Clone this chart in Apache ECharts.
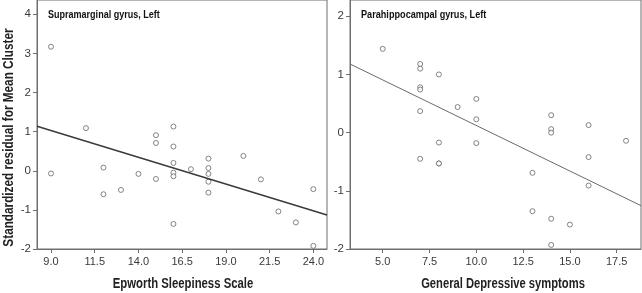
<!DOCTYPE html>
<html><head><meta charset="utf-8">
<script src="https://cdn.jsdelivr.net/npm/echarts@6/dist/echarts.min.js"></script>
<style>html,body{margin:0;padding:0;background:#fff}#c{width:642px;height:293px}</style>
</head><body><div id="c"></div>
<script>
// ---- data ----
const leftTitle = 'Supramarginal gyrus, Left';
const rightTitle = 'Parahippocampal gyrus, Left';
const yTitle = 'Standardized residual for Mean Cluster';
const leftXTitle = 'Epworth Sleepiness Scale';
const rightXTitle = 'General Depressive symptoms';

const leftScale = [9, 9, 11, 12, 12, 13, 14, 15, 15, 15, 16, 16, 16, 16, 16, 16, 17, 18, 18, 18, 18, 18, 20, 21, 22, 23, 24, 24];
const leftResid = [3.17, -0.07, 1.09, 0.08, -0.60, -0.49, -0.08, 0.91, 0.71, -0.21, 1.13, 0.62, 0.20, -0.05, -0.14, -1.36, 0.04, 0.31, 0.07, -0.08, -0.28, -0.56, 0.38, -0.22, -1.04, -1.32, -0.47, -1.92];
const leftFitX = [8.2, 24.78];
const leftFitY = [1.14, -1.13];

const rightScale = [5, 7, 7, 7, 7, 7, 7, 8, 8, 8, 8, 9, 10, 10, 10, 13, 13, 14, 14, 14, 14, 14, 15, 16, 16, 16, 18];
const rightResid = [1.44, 1.18, 1.10, 0.78, 0.74, 0.37, -0.45, 1.00, -0.17, -0.53, -0.53, 0.44, 0.58, 0.23, -0.18, -0.69, -1.35, 0.30, 0.06, 0.00, -1.48, -1.93, -1.58, 0.13, -0.42, -0.91, -0.14];
const rightFitX = [3.25, 18.8];
const rightFitY = [1.18, -1.255];

const leftXTicks = [9.0, 11.5, 14.0, 16.5, 19.0, 21.5, 24.0];
const rightXTicks = [5.0, 7.5, 10.0, 12.5, 15.0, 17.5];
const leftYTicks = [-2, -1, 0, 1, 2, 3, 4];
const rightYTicks = [-2, -1, 0, 1, 2];

// ---- chart ----
const FONT = '"Liberation Sans", Arial, sans-serif';
const axisCol = '#6e6e6e';
const labCol = '#3a3a3a';
function zip(a, b) { return a.map((v, i) => [v, b[i]]); }

function xAxis(idx, min, max, ticks) {
  return {
    type: 'value', gridIndex: idx, min: min, max: max,
    splitLine: { show: false },
    axisLine: { show: true, onZero: false, lineStyle: { color: axisCol, width: 1 } },
    axisTick: { show: true, inside: false, length: 4, customValues: ticks, lineStyle: { color: axisCol } },
    axisLabel: { customValues: ticks, formatter: v => Number(v).toFixed(1), color: labCol, fontFamily: FONT, fontSize: 11, margin: 7 }
  };
}
function yAxis(idx, min, max, ticks) {
  return {
    type: 'value', gridIndex: idx, min: min, max: max,
    splitLine: { show: false },
    axisLine: { show: true, onZero: false, lineStyle: { color: axisCol, width: 1 } },
    axisTick: { show: true, inside: false, length: 4, customValues: ticks, lineStyle: { color: axisCol } },
    axisLabel: { customValues: ticks, formatter: v => String(Math.round(v)), color: labCol, fontFamily: FONT, fontSize: 11.5, margin: 6 }
  };
}

const chart = echarts.init(document.getElementById('c'), null, { renderer: 'canvas' });
chart.setOption({
  animation: false,
  backgroundColor: '#fff',
  grid: [
    { left: 37, right: 315, top: -1, bottom: 44, show: true, borderColor: axisCol, borderWidth: 1, backgroundColor: 'transparent' },
    { left: 350, right: 1, top: -1, bottom: 44, show: true, borderColor: axisCol, borderWidth: 1, backgroundColor: 'transparent' }
  ],
  xAxis: [xAxis(0, 8.2, 24.78, leftXTicks), xAxis(1, 3.25, 18.8, rightXTicks)],
  yAxis: [yAxis(0, -2, 4.365, leftYTicks), yAxis(1, -2, 2.28, rightYTicks)],
  series: [
    { type: 'line', xAxisIndex: 0, yAxisIndex: 0, data: zip(leftFitX, leftFitY), symbol: 'none', lineStyle: { color: '#3a3a3a', width: 1.5 } },
    { type: 'scatter', xAxisIndex: 0, yAxisIndex: 0, data: zip(leftScale, leftResid), symbol: 'circle', symbolSize: 5,
      itemStyle: { color: '#fff', borderColor: '#666', borderWidth: 1 } },
    { type: 'line', xAxisIndex: 1, yAxisIndex: 1, data: zip(rightFitX, rightFitY), symbol: 'none', lineStyle: { color: '#6a6a6a', width: 1 } },
    { type: 'scatter', xAxisIndex: 1, yAxisIndex: 1, data: zip(rightScale, rightResid), symbol: 'circle', symbolSize: 5,
      itemStyle: { color: '#fff', borderColor: '#666', borderWidth: 1 } }
  ],
  graphic: [
    { type: 'text', x: 48, y: 15, scaleX: 0.82, style: { text: leftTitle, fill: '#111', font: 'bold 11px ' + FONT, align: 'left', verticalAlign: 'middle' } },
    { type: 'text', x: 361, y: 15, scaleX: 0.83, style: { text: rightTitle, fill: '#111', font: 'bold 11px ' + FONT, align: 'left', verticalAlign: 'middle' } },
    { type: 'text', x: 183, y: 284, scaleX: 0.81, style: { text: leftXTitle, fill: '#222', font: 'bold 14px ' + FONT, align: 'center', verticalAlign: 'middle' } },
    { type: 'text', x: 503, y: 284, scaleX: 0.80, style: { text: rightXTitle, fill: '#222', font: 'bold 14px ' + FONT, align: 'center', verticalAlign: 'middle' } },
    { type: 'text', x: 9.5, y: 137.5, rotation: Math.PI / 2, scaleX: 0.84, style: { text: yTitle, fill: '#222', font: 'bold 14px ' + FONT, align: 'center', verticalAlign: 'middle' } }
  ]
});
</script></body></html>
